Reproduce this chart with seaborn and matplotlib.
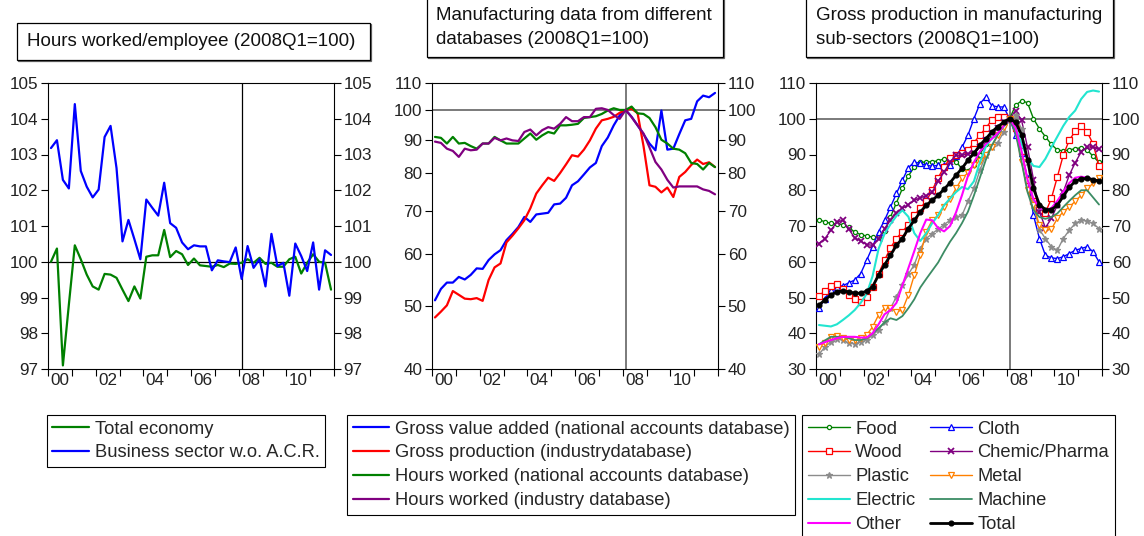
import numpy as np
import pandas as pd
import matplotlib
matplotlib.use("Agg")
import matplotlib.pyplot as plt
import seaborn as sns
from matplotlib.patches import Rectangle
from matplotlib.ticker import FixedLocator, NullLocator, FixedFormatter, NullFormatter

# ---------------- data ----------------
quarters = [f"{y}Q{q}" for y in range(2000, 2012) for q in range(1, 5)]
year_labels = ["00", "02", "04", "06", "08", "10"]

# Panel 1: hours worked / employee
total_economy = [100.0, 100.37, 97.1, 98.8, 100.46, 100.07, 99.64, 99.31, 99.22, 99.66, 99.64, 99.55,
                 99.22, 98.90, 99.31, 98.97, 100.14, 100.18, 100.18, 100.89, 100.13, 100.30, 100.21, 99.91,
                 100.09, 99.90, 99.88, 99.86, 99.91, 99.85, 99.95, 99.94, 99.97, 100.07, 99.97, 100.11,
                 99.94, 99.97, 99.86, 99.86, 100.07, 100.14, 99.67, 99.97, 100.21, 100.0, 99.97, 99.22]
business_sector = [103.18, 103.40, 102.29, 102.05, 104.41, 102.54, 102.10, 101.80, 102.02, 103.49, 103.80, 102.62,
                   100.57, 101.17, 100.63, 100.07, 101.74, 101.51, 101.29, 102.21, 101.08, 100.95, 100.54, 100.35,
                   100.46, 100.43, 100.43, 99.76, 100.04, 100.01, 99.99, 100.40, 99.52, 100.44, 99.83, 100.07,
                   99.31, 100.78, 99.88, 99.97, 99.05, 100.51, 100.16, 99.74, 100.54, 99.22, 100.32, 100.19]

# Panel 2: manufacturing data from different databases
gva_na = [51.0, 53.1, 54.3, 54.3, 55.4, 54.9, 55.8, 57.1, 57.0, 58.8, 60.0, 60.9,
          63.1, 64.5, 66.1, 68.5, 67.3, 69.1, 69.3, 69.5, 71.6, 71.8, 73.3, 76.6,
          77.7, 79.6, 81.6, 82.9, 88.0, 90.7, 94.7, 98.1, 100.0, 97.6, 94.7, 91.8,
          88.8, 86.7, 99.8, 86.9, 87.2, 91.8, 96.4, 96.9, 103.1, 105.2, 104.6, 106.2]
gp_ind = [48.0, 49.0, 50.1, 52.7, 52.0, 51.3, 51.2, 51.4, 50.9, 54.8, 57.3, 58.1,
          62.6, 64.1, 65.8, 67.7, 70.6, 74.4, 76.6, 78.7, 77.8, 80.0, 82.5, 85.2,
          84.8, 86.9, 89.8, 93.6, 96.4, 96.9, 97.6, 99.0, 100.0, 100.4, 98.9, 88.0,
          76.6, 76.2, 74.7, 76.0, 73.5, 78.9, 80.3, 82.3, 83.9, 82.6, 83.1, 81.7]
hours_na = [90.9, 90.6, 88.8, 90.9, 88.8, 89.0, 88.0, 87.2, 88.8, 88.8, 90.9, 89.8,
            88.8, 88.8, 88.8, 90.4, 92.0, 90.0, 91.4, 92.5, 92.0, 94.7, 94.7, 94.9,
            95.2, 97.2, 97.5, 97.8, 98.6, 99.8, 100.6, 100.0, 100.0, 101.2, 98.8, 98.6,
            97.2, 94.1, 90.0, 88.8, 87.2, 86.9, 85.8, 82.9, 82.6, 81.0, 82.9, 81.7]
hours_ind = [89.4, 89.0, 87.2, 86.5, 84.7, 87.2, 86.7, 86.9, 88.8, 88.8, 90.6, 89.8,
             90.4, 89.8, 89.6, 92.5, 93.3, 91.4, 93.1, 94.1, 93.6, 95.2, 97.5, 96.1,
             96.1, 97.5, 97.5, 100.4, 100.6, 100.0, 98.2, 96.9, 100.0, 97.5, 94.7, 92.0,
             87.6, 83.2, 81.0, 78.1, 76.0, 76.3, 76.3, 76.3, 76.3, 75.5, 75.1, 74.2]

# Panel 3: gross production in manufacturing sub-sectors
food = [71.7, 71.2, 70.7, 70.6, 70.4, 69.6, 68.3, 67.6, 67.2, 66.9, 67.0, 68.5,
        72.5, 76.5, 80.5, 84.0, 86.5, 87.8, 87.9, 88.0, 88.2, 88.8, 89.0, 88.0,
        86.0, 85.5, 87.0, 90.0, 93.0, 95.5, 97.5, 99.0, 100.0, 103.8, 105.0, 104.5,
        100.0, 97.2, 95.0, 92.8, 91.3, 91.0, 91.3, 91.6, 91.9, 91.3, 89.5, 87.8]
cloth = [47.0, 49.7, 52.1, 53.0, 53.3, 54.1, 54.9, 56.7, 60.4, 64.2, 68.4, 71.6,
         75.3, 79.1, 82.8, 86.3, 87.9, 87.5, 87.0, 86.7, 87.0, 87.0, 87.0, 89.5,
         92.0, 95.4, 100.0, 104.2, 106.1, 103.7, 103.3, 103.3, 100.0, 95.4, 90.3, 83.3,
         73.0, 66.5, 61.8, 61.1, 60.9, 61.4, 62.3, 63.2, 63.7, 64.2, 62.8, 60.0]
wood = [50.5, 51.8, 53.2, 53.7, 52.5, 50.7, 49.7, 48.8, 50.2, 53.0, 56.7, 60.4,
        63.9, 66.5, 68.4, 70.4, 73.0, 75.0, 77.0, 80.0, 83.5, 86.5, 89.0, 90.0,
        90.5, 91.2, 93.3, 95.4, 97.4, 99.6, 100.6, 100.4, 100.0, 97.5, 91.0, 83.0,
        77.0, 74.6, 73.7, 77.7, 83.7, 89.8, 94.0, 96.5, 98.0, 96.3, 93.0, 86.8]
chemic = [65.1, 66.5, 68.8, 71.1, 71.6, 69.1, 66.7, 65.8, 64.8, 64.6, 66.5, 69.3,
          71.6, 73.5, 74.9, 76.0, 77.2, 77.9, 78.4, 79.5, 82.5, 85.1, 87.9, 89.8,
          89.8, 90.2, 90.5, 92.0, 94.0, 96.0, 97.5, 99.0, 100.0, 102.1, 99.6, 92.0,
          83.0, 74.0, 69.5, 72.1, 75.8, 79.5, 84.2, 87.7, 90.7, 92.1, 92.1, 91.4]
plastic = [34.1, 36.2, 37.6, 38.4, 38.1, 37.3, 37.1, 37.6, 38.1, 39.5, 40.9, 43.2,
           47.0, 50.2, 53.5, 56.5, 59.2, 63.7, 66.5, 67.9, 69.1, 70.4, 71.6, 72.5,
           73.0, 76.9, 80.5, 85.6, 89.8, 92.1, 93.3, 96.3, 100.0, 101.0, 97.0, 88.0,
           76.0, 69.0, 66.5, 64.2, 63.2, 66.5, 68.8, 70.7, 71.6, 71.4, 70.7, 69.3]
metal = [36.2, 37.3, 39.0, 39.3, 38.7, 38.1, 38.1, 38.6, 39.5, 41.8, 45.1, 47.0,
         47.0, 46.0, 46.5, 50.7, 56.3, 61.8, 68.4, 71.6, 73.0, 75.3, 77.5, 80.5,
         83.3, 84.9, 87.0, 88.3, 89.8, 92.1, 95.4, 97.7, 100.0, 96.5, 88.0, 80.0,
         75.8, 70.2, 68.8, 69.1, 72.1, 74.0, 75.3, 76.9, 78.6, 80.5, 81.9, 83.5]
electric = [42.3, 42.1, 41.9, 42.5, 43.7, 45.0, 46.5, 48.5, 51.0, 56.0, 63.6, 67.8,
            70.5, 72.8, 74.4, 72.6, 68.0, 65.8, 68.0, 70.8, 73.0, 75.8, 77.7, 79.5,
            80.9, 80.3, 82.5, 87.8, 92.2, 94.5, 95.8, 97.8, 100.0, 97.5, 93.0, 89.0,
            86.8, 86.5, 88.8, 92.0, 95.0, 98.0, 100.5, 102.3, 105.5, 107.5, 107.9, 107.6]
machine = [36.9, 38.0, 39.0, 39.0, 39.0, 38.6, 38.1, 38.1, 38.6, 40.0, 41.4, 43.0,
           44.2, 43.7, 44.8, 47.0, 49.5, 52.8, 55.2, 57.5, 59.8, 62.8, 65.6, 68.0,
           70.8, 74.0, 78.5, 83.5, 88.5, 92.5, 95.5, 98.0, 100.0, 96.0, 88.0, 79.5,
           74.5, 72.5, 72.0, 72.5, 73.5, 75.3, 77.0, 78.6, 80.0, 80.0, 78.0, 76.0]
other = [36.9, 37.5, 38.1, 38.6, 39.0, 39.0, 39.0, 38.8, 38.8, 40.0, 42.5, 45.3,
         46.5, 48.5, 53.4, 58.2, 63.0, 68.0, 71.8, 71.6, 69.4, 68.5, 70.0, 73.8,
         78.6, 84.0, 87.8, 90.8, 93.0, 94.4, 96.0, 98.0, 100.0, 97.5, 91.0, 83.0,
         77.5, 75.0, 74.5, 75.0, 77.0, 79.5, 82.0, 83.5, 83.8, 83.5, 83.0, 82.5]
total = [47.9, 49.3, 50.7, 51.6, 51.8, 51.6, 51.2, 51.2, 51.8, 53.0, 56.3, 59.1,
         61.8, 64.6, 66.5, 69.3, 71.6, 73.9, 75.8, 77.2, 78.6, 80.3, 82.1, 84.2,
         86.1, 88.4, 90.3, 92.6, 94.4, 96.3, 97.8, 99.0, 100.0, 99.0, 95.5, 88.5,
         80.5, 76.0, 74.6, 74.6, 75.8, 78.3, 80.8, 82.5, 83.2, 83.3, 83.0, 82.5]

# ---------------- figure ----------------
sns.set_style("white")
plt.rcParams["font.family"] = ["Liberation Sans", "DejaVu Sans"]

W, H = 1144, 536
fig = plt.figure(figsize=(W / 100, H / 100), dpi=100)


def fx(px):
    return px / W


def fy(py):
    return 1 - py / H


xq = np.array([int(s[:4]) + (int(s[-1]) - 1) / 4 + 0.125 for s in quarters])
base_q = 2008.125

ax1 = fig.add_axes([fx(48), fy(369), fx(286), 286 / H])
ax2 = fig.add_axes([fx(432), fy(369), fx(286), 286 / H])
ax3 = fig.add_axes([fx(816), fy(369), fx(286), 286 / H])

TICK_FS = 12.3


def style(ax, yticks, ylim, log=False, refcolor="black", reflw=0.9):
    ax.set_xlim(2000, 2012)
    if log:
        ax.set_yscale("log")
    ax.set_ylim(*ylim)
    ax.yaxis.set_major_locator(FixedLocator(yticks))
    ax.yaxis.set_major_formatter(FixedFormatter([str(t) for t in yticks]))
    ax.yaxis.set_minor_locator(NullLocator())
    ax.yaxis.set_minor_formatter(NullFormatter())
    ax.xaxis.set_major_locator(FixedLocator(list(range(2000, 2013))))
    ax.xaxis.set_major_formatter(NullFormatter())
    ax.xaxis.set_minor_locator(FixedLocator([2000 + int(l) + 0.5 for l in year_labels]))
    ax.xaxis.set_minor_formatter(FixedFormatter(year_labels))
    ax.tick_params(axis="x", which="major", direction="out", length=5, width=0.8,
                   bottom=True, colors="black")
    ax.tick_params(axis="x", which="minor", length=0, labelsize=TICK_FS, pad=3,
                   bottom=True, labelcolor="#222222")
    ax.tick_params(axis="y", which="major", direction="out", length=5, width=0.8,
                   left=True, right=True, labelleft=True, labelright=True,
                   labelsize=TICK_FS, pad=2, colors="black", labelcolor="#222222")
    for s in ax.spines.values():
        s.set_color("black")
        s.set_linewidth(0.8)
        s.set_visible(True)
    ax.axhline(100, color=refcolor, lw=reflw, zorder=1)
    ax.axvline(base_q, color=refcolor, lw=reflw, zorder=1)
    ax.set_xlabel("")
    ax.set_ylabel("")


def draw(ax, values, color, label, lw=1.6, **kw):
    mk = {}
    if "marker" in kw:
        mk = dict(markeredgecolor=color, markeredgewidth=kw.pop("mew", 0.9))
    sns.lineplot(x=xq, y=values, ax=ax, color=color, lw=lw, label=label,
                 estimator=None, sort=False, zorder=3, **mk, **kw)


# Panel 1
draw(ax1, total_economy, "#008000", "Total economy")
draw(ax1, business_sector, "#0000FF", "Business sector w.o. A.C.R.")
style(ax1, [97, 98, 99, 100, 101, 102, 103, 104, 105], (97, 105))

# Panel 2
draw(ax2, gva_na, "#0000FF", "Gross value added (national accounts database)")
draw(ax2, gp_ind, "#FF0000", "Gross production (industrydatabase)")
draw(ax2, hours_na, "#008000", "Hours worked (national accounts database)")
draw(ax2, hours_ind, "#800080", "Hours worked (industry database)")
style(ax2, [40, 50, 60, 70, 80, 90, 100, 110], (40, 110), log=True,
      refcolor="#707070", reflw=1.3)

# Panel 3
p3 = {}
p3["Food"] = (food, "#008000", dict(marker="o", ms=3.0, markerfacecolor="white", lw=1.0))
p3["Cloth"] = (cloth, "#0000FF", dict(marker="^", ms=4.5, markerfacecolor="white", lw=1.0))
p3["Wood"] = (wood, "#FF0000", dict(marker="s", ms=4.8, markerfacecolor="white", lw=1.0))
p3["Chemic/Pharma"] = (chemic, "#800080", dict(marker="x", ms=4, mew=1.3, lw=1.0))
p3["Plastic"] = (plastic, "#8C8C8C", dict(marker="*", ms=5, markerfacecolor="#8C8C8C", lw=1.0))
p3["Metal"] = (metal, "#FF8000", dict(marker="v", ms=4.5, markerfacecolor="white", lw=1.0))
p3["Electric"] = (electric, "#22E5D0", dict(lw=1.5))
p3["Machine"] = (machine, "#3C8C64", dict(lw=1.3))
p3["Other"] = (other, "#FF00FF", dict(lw=1.5))
p3["Total"] = (total, "#000000", dict(marker="o", ms=3.5, markerfacecolor="black", lw=2.0))
for name, (vals, col, kw) in p3.items():
    draw(ax3, vals, col, name, **kw)
style(ax3, [30, 40, 50, 60, 70, 80, 90, 100, 110], (30, 110),
      refcolor="#707070", reflw=1.3)

# ---------------- legends ----------------
leg_kw = dict(loc="upper left", frameon=True, fancybox=False, edgecolor="black",
              fontsize=13.2, handletextpad=0.3, labelspacing=0.38, borderpad=0.3,
              borderaxespad=0, framealpha=1)


def handles_of(ax):
    h, l = ax.get_legend_handles_labels()
    if ax.get_legend() is not None:
        ax.get_legend().remove()
    return dict(zip(l, h))


h1 = handles_of(ax1)
l1 = ["Total economy", "Business sector w.o. A.C.R."]
lg = fig.legend([h1[k] for k in l1], l1, bbox_to_anchor=(fx(47), fy(415)),
                handlelength=2.0, **leg_kw)
lg.get_frame().set_linewidth(0.8)

h2 = handles_of(ax2)
l2 = ["Gross value added (national accounts database)", "Gross production (industrydatabase)",
      "Hours worked (national accounts database)", "Hours worked (industry database)"]
lg = fig.legend([h2[k] for k in l2], l2, bbox_to_anchor=(fx(347), fy(415)),
                handlelength=2.0, **leg_kw)
lg.get_frame().set_linewidth(0.8)

h3 = handles_of(ax3)
l3 = ["Food", "Wood", "Plastic", "Electric", "Other",
      "Cloth", "Chemic/Pharma", "Metal", "Machine", "Total"]
lg = fig.legend([h3[k] for k in l3], l3, bbox_to_anchor=(fx(802), fy(415)),
                ncol=2, handlelength=2.3, columnspacing=0.8, **leg_kw)
lg.get_frame().set_linewidth(0.8)

# ---------------- title boxes ----------------
def title_box(x0, y0, x1, y1, lines, tx, tys):
    # soft shadow on right / bottom edges
    fig.patches.append(Rectangle((fx(x0 + 1.2), fy(y1 + 1.2)), fx(x1 - x0), (y1 - y0) / H,
                                 transform=fig.transFigure, fill=False,
                                 edgecolor="#666666", lw=0.9))
    fig.patches.append(Rectangle((fx(x0), fy(y1)), fx(x1 - x0), (y1 - y0) / H,
                                 transform=fig.transFigure, facecolor="white",
                                 edgecolor="black", lw=0.9))
    for line, ty in zip(lines, tys):
        fig.text(fx(tx), fy(ty), line, ha="left", va="center", fontsize=13.5, color="#111111")


title_box(17, 23, 370, 60, ["Hours worked/employee (2008Q1=100)"], 27, [41])
title_box(427, -3, 723, 57, ["Manufacturing data from different", "databases (2008Q1=100)"],
          436, [16, 40])
title_box(806, -3, 1113, 57, ["Gross production in manufacturing", "sub-sectors (2008Q1=100)"],
          816, [16, 40])

fig.savefig("out.png", dpi=100)
